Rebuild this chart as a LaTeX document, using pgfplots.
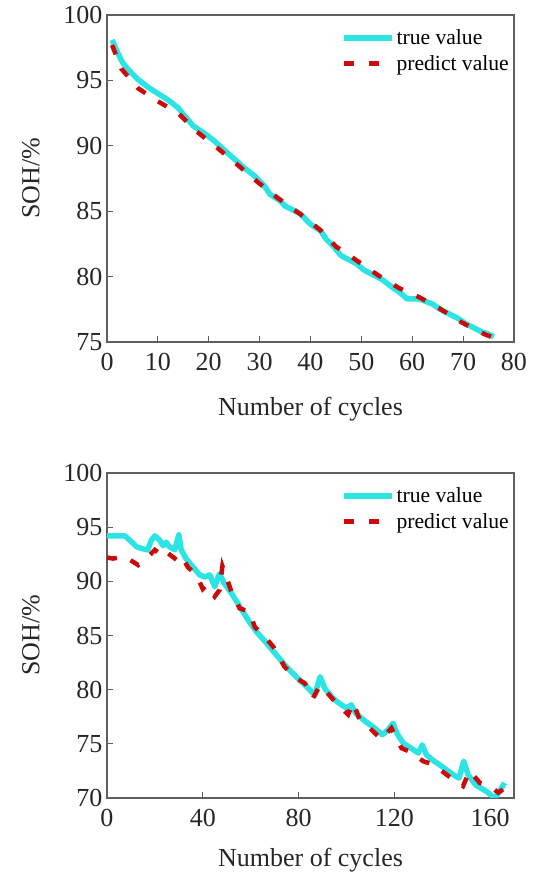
\documentclass[border=0pt]{standalone}
\usepackage{fontspec}
\setmainfont{Liberation Serif}
\usepackage{pgfplots}
\pgfplotsset{compat=1.18}
\definecolor{cyanline}{RGB}{45,228,228}
\definecolor{redline}{RGB}{205,10,10}
\definecolor{axgray}{RGB}{95,95,95}
\pgfplotsset{
  myaxis/.style={
    scale only axis,
    width=407pt,
    xtick pos=left, ytick pos=left,
    tick align=inside,
    major tick length=6pt,
    axis line style={axgray, line width=1.1pt},
    every tick/.style={axgray, line width=1.1pt},
    /pgf/number format/assume math mode=true,
    tick label style={font=\fontsize{26}{28}\selectfont, text=black!85},
    label style={font=\fontsize{26}{30}\selectfont, text=black!85},
    xticklabel style={yshift=-8pt},
    yticklabel style={xshift=-1pt},
    ylabel style={at={(axis description cs:-0.187,0.5)}, anchor=center},
    legend style={at={(axis description cs:0.995,0.965)}, anchor=north east,
      draw=none, fill=none, font=\fontsize{21.6}{24}\selectfont,
      row sep=5pt, inner sep=1pt},
    legend cell align=left,
    legend image code/.code={\draw[##1] (0pt,0pt) -- (48pt,0pt);},
    truestyle/.style={cyanline, line width=5.5pt, line join=round},
    predstyle/.style={redline, line width=4.5pt, dash pattern=on 10pt off 15pt},
  }
}
\begin{document}
\begin{tikzpicture}
\useasboundingbox (0pt,0pt) rectangle (544pt,879pt);
% ---------- top ----------
\begin{axis}[myaxis,
  at={(107pt,537pt)}, height=327pt,
  xmin=0, xmax=80, ymin=75, ymax=100,
  xtick={0,10,...,80}, ytick={75,80,...,100},
  xlabel={Number of cycles}, ylabel={SOH/\%},
  xlabel style={at={(axis description cs:0.5,-0.205)}, anchor=center},
]
\addplot[truestyle] coordinates {
(1,98.1)(2,97.2)(3,96.4)(4,95.9)(5,95.5)(6,95.1)(7,94.8)(8,94.5)(10,94.0)
(12,93.5)(14,92.9)(15,92.4)(17,91.5)(19,91.0)(21,90.4)(23,89.7)(25,89.0)
(27,88.3)(29,87.7)(31,86.9)(32,86.3)(34,85.8)(35,85.4)(38,84.8)(40,84.0)
(42,83.5)(43,82.9)(44.5,82.3)(46,81.6)(47.5,81.3)(49,81.0)(50.5,80.5)
(52,80.2)(54,79.8)(56,79.2)(57.5,78.8)(59,78.3)(61,78.3)(62,78.2)(64,77.9)
(65.5,77.5)(67,77.2)(69,76.8)(70.5,76.4)(72,76.1)(73.5,75.8)(75,75.6)(76,75.4)
};
\addlegendentry{true value}
\addplot[predstyle] coordinates {
(1,97.7)(2.8,95.9)(6.1,94.4)(10,93.4)(14,92.5)(17.6,91.1)(21.5,89.9)
(25.8,88.5)(29.7,87.2)(33.6,86.0)(37.9,84.8)(41.8,83.6)(45,82.3)(49,81.25)
(53.3,80.1)(57.5,79.1)(61.5,78.4)(65.4,77.55)(69.7,76.5)(74.2,75.6)(75.5,75.4)
};
\addlegendentry{predict value}
\end{axis}
% ---------- bottom ----------
\begin{axis}[myaxis,
  at={(107pt,81pt)}, height=325pt,
  xmin=0, xmax=170, ymin=70, ymax=100,
  xtick={0,40,...,160}, ytick={70,75,...,100},
  xlabel={Number of cycles}, ylabel={SOH/\%},
  xlabel style={at={(axis description cs:0.5,-0.19)}, anchor=center},
]
\addplot[truestyle] coordinates {
(0,94.2)(7.4,94.2)(9.5,93.8)(12.3,93.2)(15,93.0)(17,92.9)(18.5,93.8)(20,94.2)
(22,93.8)(23.4,93.3)(24.8,93.6)(26,93.2)(28.3,92.9)(30,94.3)(31,92.9)(33,92.1)
(36,91.3)(38.7,90.6)(40.8,90.4)(42.9,90.6)(45,89.5)(47,90.7)(49,89.8)(52,88.9)
(55.4,87.7)(59,86.4)(62.4,85.35)(66.6,84.3)(70.8,83.2)(75,82.1)(79,81.2)
(83.3,80.3)(86.8,79.5)(89,81.2)(91,80.1)(94.4,79.2)(97,78.75)(100,78.3)
(102,78.6)(104,77.8)(108,77.06)(111.8,76.45)(115,75.84)(117.4,76.3)(119.5,76.9)
(121,76.0)(123.7,75.07)(127,74.6)(130,74.15)(131.7,74.9)(133.4,74.0)(136,73.5)
(140,72.9)(144.6,72.15)(147,71.84)(149,73.4)(150.8,72.15)(154,71.2)(158.5,70.6)
(162,70.0)(164,70.6)(166,71.4)
};
\addlegendentry{true value}
\addplot[predstyle] coordinates {
(0,92.2)(2.5,92.1)(7.4,92.3)(13,91.5)(16.4,92.1)(20,92.9)(23.4,92.3)(24.8,92.7)
(29,92.0)(31,92.4)(33.8,91.3)(37.3,90.6)(40,89.3)(41.5,89.65)(45,88.6)(47,89.2)
(48.2,91.4)(49.9,90.4)(52,89.0)(55.4,87.5)(59.6,87.2)(61.7,85.8)(66.6,84.7)
(69.4,83.97)(74.2,82.1)(79,81.05)(82.6,80.6)(86,79.2)(89,80.4)(91.6,79.8)
(96.5,78.6)(100.7,77.7)(102.8,78.8)(105.6,77.2)(108.4,76.76)(114.6,75.4)
(118.8,76.45)(123,74.6)(127.9,74.15)(132,73.4)(136.2,73.1)(141,72.3)
(144.6,71.7)(148.7,71.1)(151.5,72.5)(155.7,71.4)(159.9,71.1)(163.4,70.5)(165.5,70.8)
};
\addlegendentry{predict value}
\end{axis}
\end{tikzpicture}
\end{document}
